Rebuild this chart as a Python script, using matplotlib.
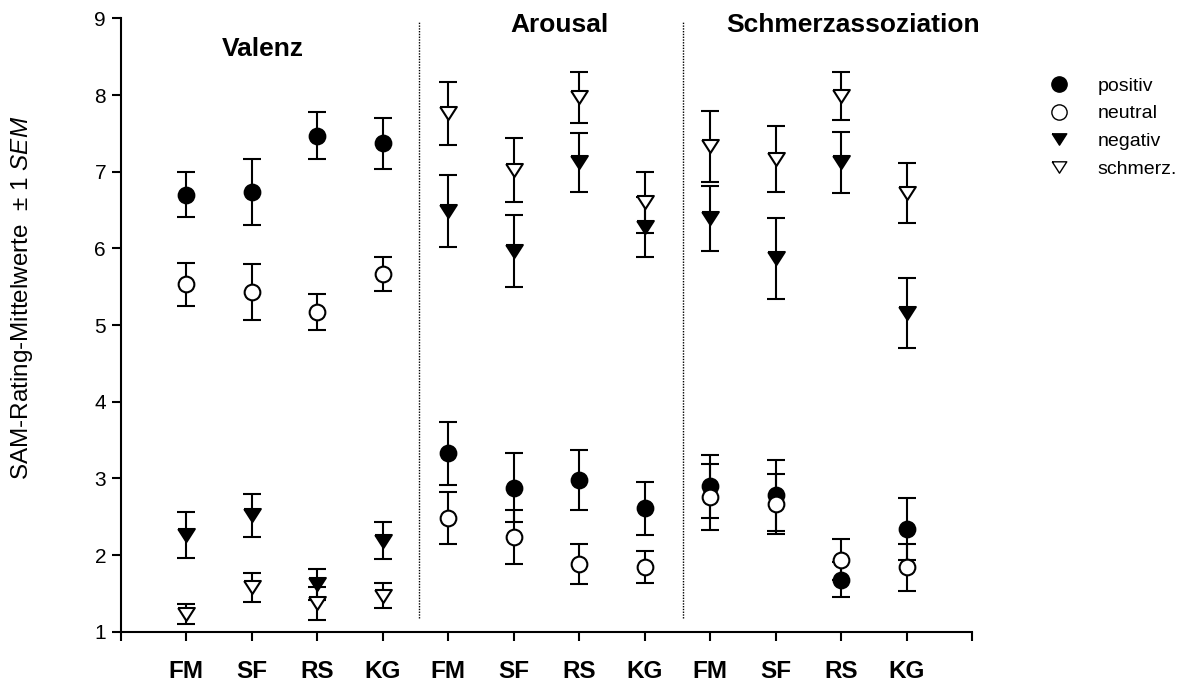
import numpy as np
import matplotlib
matplotlib.use("Agg")
import matplotlib.pyplot as plt
from matplotlib.lines import Line2D

plt.rcParams['font.family'] = 'Liberation Sans'
plt.rcParams['mathtext.fontset'] = 'custom'
plt.rcParams['mathtext.rm'] = 'Liberation Sans'
plt.rcParams['mathtext.it'] = 'Liberation Sans:italic'

# Daten (Mittelwerte und SEM), je 4 Gruppen pro Block
groups = ['FM', 'SF', 'RS', 'KG']
blocks = ['Valenz', 'Arousal', 'Schmerzassoziation']

positiv = [6.70, 6.73, 7.47, 7.37, 3.33, 2.88, 2.98, 2.61, 2.90, 2.78, 1.68, 2.34]
positiv_err = [0.29, 0.43, 0.31, 0.33, 0.41, 0.45, 0.39, 0.35, 0.41, 0.46, 0.23, 0.41]
neutral = [5.53, 5.43, 5.17, 5.67, 2.48, 2.24, 1.88, 1.84, 2.76, 2.67, 1.94, 1.84]
neutral_err = [0.28, 0.36, 0.23, 0.22, 0.34, 0.35, 0.26, 0.21, 0.43, 0.39, 0.27, 0.31]
negativ = [2.26, 2.52, 1.62, 2.19, 6.49, 5.96, 7.12, 6.28, 6.39, 5.87, 7.12, 5.16]
negativ_err = [0.30, 0.28, 0.20, 0.24, 0.47, 0.47, 0.39, 0.39, 0.43, 0.53, 0.40, 0.46]
schmerz = [1.23, 1.58, 1.37, 1.47, 7.76, 7.02, 7.97, 6.60, 7.33, 7.17, 7.99, 6.72]
schmerz_err = [0.13, 0.19, 0.21, 0.16, 0.41, 0.42, 0.33, 0.40, 0.46, 0.43, 0.31, 0.39]

x = np.arange(1, 13)

# Dreieck breiter als hoch (wie im Original)
tri = [(-1, 0.78), (1, 0.78), (0, -0.78), (-1, 0.78)]

fig = plt.figure(figsize=(11.95, 6.84), dpi=100)
ax = fig.add_axes([0.101, 0.0763, 0.7126, 0.8969])

series = [
    (positiv, positiv_err, 'o', 'black', 11.3, 'positiv'),
    (neutral, neutral_err, 'o', 'white', 11.3, 'neutral'),
    (negativ, negativ_err, tri, 'black', 12, 'negativ'),
    (schmerz, schmerz_err, tri, 'white', 12, 'schmerz.'),
]
for y, e, m, fc, ms, lab in series:
    ax.errorbar(x, y, yerr=e, fmt='none', ecolor='black', elinewidth=1.5,
                capsize=6.5, capthick=1.5, zorder=2)
    ax.plot(x, y, linestyle='none', marker=m, markersize=ms, markerfacecolor=fc,
            markeredgecolor='black', markeredgewidth=1.5, zorder=3)

# gepunktete Trennlinien
for xv in (4.55, 8.58):
    ax.plot([xv, xv], [1.18, 8.97], color='black', lw=1, linestyle=(0, (1, 1)), zorder=1)

ax.text(2.17, 8.508, blocks[0], fontsize=19, fontweight='bold', ha='center', va='baseline')
ax.text(6.70, 8.817, blocks[1], fontsize=19, fontweight='bold', ha='center', va='baseline')
ax.text(11.18, 8.825, blocks[2], fontsize=19, fontweight='bold', ha='center', va='baseline',
        clip_on=False)

ax.set_xlim(0, 13)
ax.set_ylim(1, 9)
ax.set_yticks(range(1, 10))
ax.set_xticks(range(14))
ax.set_xticklabels([''] + groups * 3 + [''], fontsize=17.5, fontweight='bold')
ax.tick_params(axis='x', length=6.5, width=1.5, pad=13.5)
ax.tick_params(axis='y', length=6.5, width=1.5, labelsize=15, pad=4)
for s in ('top', 'right'):
    ax.spines[s].set_visible(False)
for s in ('left', 'bottom'):
    ax.spines[s].set_linewidth(1.5)

fig.text(22 / 1195, 1 - 298 / 684, r'SAM-Rating-Mittelwerte  $\pm$ 1 $\mathit{SEM}$',
         rotation=90, fontsize=17.5, ha='center', va='center')

handles = [
    Line2D([], [], linestyle='none', marker='o', markersize=11, markerfacecolor='black', markeredgecolor='black', markeredgewidth=1),
    Line2D([], [], linestyle='none', marker='o', markersize=11, markerfacecolor='white', markeredgecolor='black', markeredgewidth=1),
    Line2D([], [], linestyle='none', marker=tri, markersize=10.5, markerfacecolor='black', markeredgecolor='black', markeredgewidth=1),
    Line2D([], [], linestyle='none', marker=tri, markersize=10.5, markerfacecolor='white', markeredgecolor='black', markeredgewidth=1),
]
fig.legend(handles, [s[5] for s in series], loc='upper left',
           bbox_to_anchor=(1049 / 1195, 1 - 77 / 684), frameon=False, fontsize=14,
           handlelength=1.0, handletextpad=1.5, borderpad=0, borderaxespad=0,
           labelspacing=0.52)

fig.savefig('out.png', dpi=100)
